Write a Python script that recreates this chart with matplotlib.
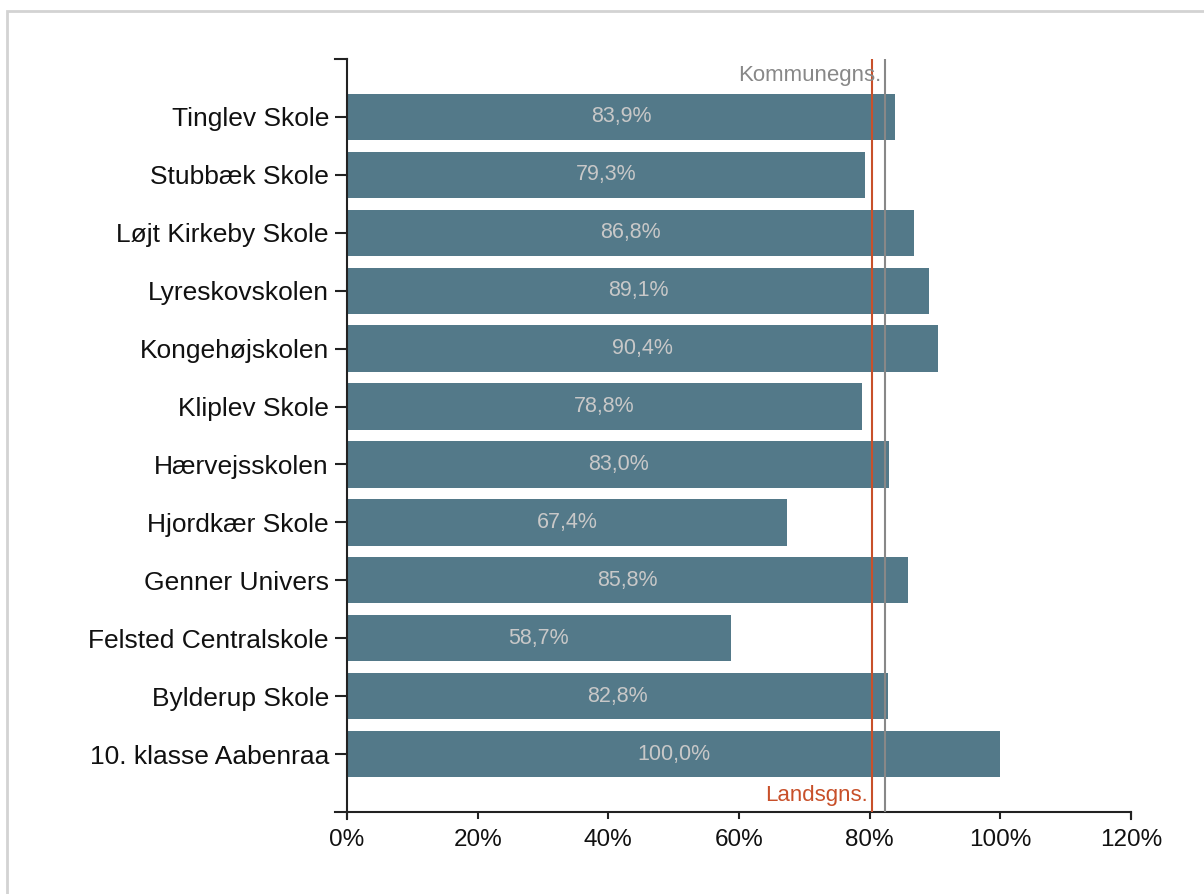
import matplotlib
matplotlib.use("Agg")
import matplotlib.pyplot as plt
from matplotlib.lines import Line2D
from matplotlib.patches import Rectangle

schools = ["Tinglev Skole", "Stubbæk Skole", "Løjt Kirkeby Skole", "Lyreskovskolen",
           "Kongehøjskolen", "Kliplev Skole", "Hærvejsskolen", "Hjordkær Skole",
           "Genner Univers", "Felsted Centralskole", "Bylderup Skole", "10. klasse Aabenraa"]
values = [83.9, 79.3, 86.8, 89.1, 90.4, 78.8, 83.0, 67.4, 85.8, 58.7, 82.8, 100.0]
lands_avg = 80.3
kommune_avg = 82.4
x_ticks = [0, 20, 40, 60, 80, 100, 120]

plt.rcParams['font.family'] = ['Liberation Sans', 'DejaVu Sans']

fig = plt.figure(figsize=(12.04, 8.94), dpi=100)
fig.patches.append(Rectangle((7/1204, -0.1), 1.2, 1.1 - 11/894,
                             transform=fig.transFigure, fill=False,
                             edgecolor='#d3d3d3', linewidth=2))
ax = fig.add_axes([347/1204, 1 - 812/894, (1131-347)/1204, (812-59)/894])

bar_color = '#537989'
ypos = list(range(len(schools)))
ax.barh(ypos, values, height=0.8, color=bar_color, zorder=2)
for y, v in zip(ypos, values):
    ax.text(v / 2, y, f"{v:.1f}%".replace('.', ','), ha='center', va='center',
            color='#c8c8c8', fontsize=15.5, zorder=3)

ax.axvline(lands_avg, color='#c8502a', linewidth=1.5, zorder=4)
ax.axvline(kommune_avg, color='#888888', linewidth=1.5, zorder=4)
ax.text(kommune_avg - 0.6, -0.72, "Kommunegns.", ha='right', va='center',
        color='#888888', fontsize=16, zorder=5)
ax.text(lands_avg - 0.5, 11.72, "Landsgns.", ha='right', va='center',
        color='#c8502a', fontsize=16, zorder=5)

ax.set_xlim(0, 120)
ax.set_ylim(12, -1)
ax.set_yticks(ypos)
ax.set_yticklabels(schools)
ax.set_xticks(x_ticks)
ax.set_xticklabels([f"{t}%" for t in x_ticks])
ax.tick_params(axis='both', width=1.5, color='#222222', labelcolor='#111111')
ax.tick_params(axis='y', labelsize=19, pad=4.5, length=8.5)
ax.tick_params(axis='x', labelsize=17.5, pad=7, length=5)
for s in ['top', 'right']:
    ax.spines[s].set_visible(False)
for s in ['left', 'bottom']:
    ax.spines[s].set_linewidth(1.5)
    ax.spines[s].set_color('#222222')

# outer ticks at domain ends
tr = ax.transAxes
dx = 12 / (1131 - 347)
dy = 7 / (812 - 59)
for (x0, y0, x1, y1) in [(0, 1, -dx, 1), (0, 0, -dx, 0), (0, 0, 0, -dy), (1, 0, 1, -dy)]:
    ax.add_line(Line2D([x0, x1], [y0, y1], transform=tr, color='#222222',
                       linewidth=1.5, clip_on=False))

fig.savefig("out.png", dpi=100)
